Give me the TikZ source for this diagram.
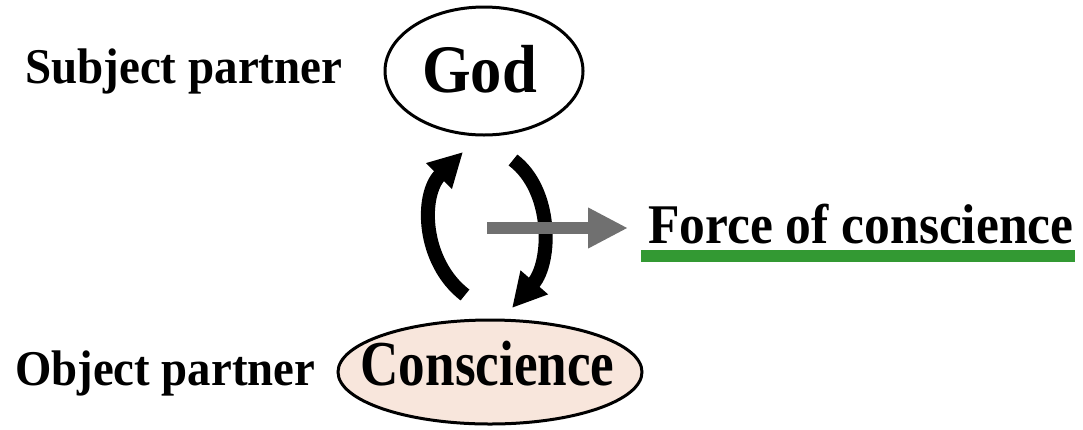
\documentclass[tikz,border=0pt]{standalone}
\usepackage{fontspec}
\setmainfont{Liberation Serif}
\usepackage{graphicx}
\usetikzlibrary{shapes.geometric,arrows.meta}
\definecolor{peach}{HTML}{F8E6DC}
\definecolor{arrowgray}{HTML}{707070}
\definecolor{linegreen}{HTML}{339933}
\newcommand{\narrowtext}[3]{\fontsize{#1}{#1}\selectfont\bfseries\scalebox{#2}[1]{#3}}

\begin{document}
\begin{tikzpicture}[x=1pt, y=-1pt,
        partner/.style={ellipse, draw=black, line width=3pt, inner sep=0pt},
        tag/.style={inner sep=0pt, anchor=base west},
        cyclearrow/.style={line width=14pt, -{Triangle[length=34pt,width=34pt]}}]
        \useasboundingbox (0,0) rectangle (1083,429);
        % Partner ellipses
        \node[partner, minimum width=198pt, minimum height=128pt] (god) at (484,71) {};
        \node[partner, fill=peach, minimum width=304pt, minimum height=104pt] (consc) at (490,372) {};
        \node[inner sep=0pt, anchor=base] (godtext) at (479.5,92) {\narrowtext{68}{0.92}{God}};
        \node[inner sep=0pt, anchor=base] (consctext) at (487.5,385) {\narrowtext{64}{0.83}{Conscience}};
        % Side labels
        \node[tag] (subject) at (25,83) {\narrowtext{50}{0.94}{Subject partner}};
        \node[tag] (object) at (15,385) {\narrowtext{50}{0.935}{Object partner}};
        \node[tag] (force) at (648,243) {\narrowtext{56}{0.92}{Force of conscience}};
        \draw[linegreen, line width=12pt] (641,256) -- (1075,256);
        % Give and receive arrows
        \coordinate (upstart) at (465,295);
        \coordinate (uptip) at (463,152);
        \coordinate (downstart) at (513,160);
        \coordinate (downtip) at (512,308);
        \draw[cyclearrow] (upstart) .. controls (422,262) and (420,195) .. (uptip);
        \draw[cyclearrow] (downstart) .. controls (553,190) and (552,262) .. (downtip);
        % Result arrow
        \coordinate (hub) at (487,228);
        \coordinate (forcetip) at (628,228);
        \draw[arrowgray, line width=12pt, -{Triangle[length=40pt,width=38pt]}] (hub) -- (forcetip);
    \end{tikzpicture}
\end{document}
